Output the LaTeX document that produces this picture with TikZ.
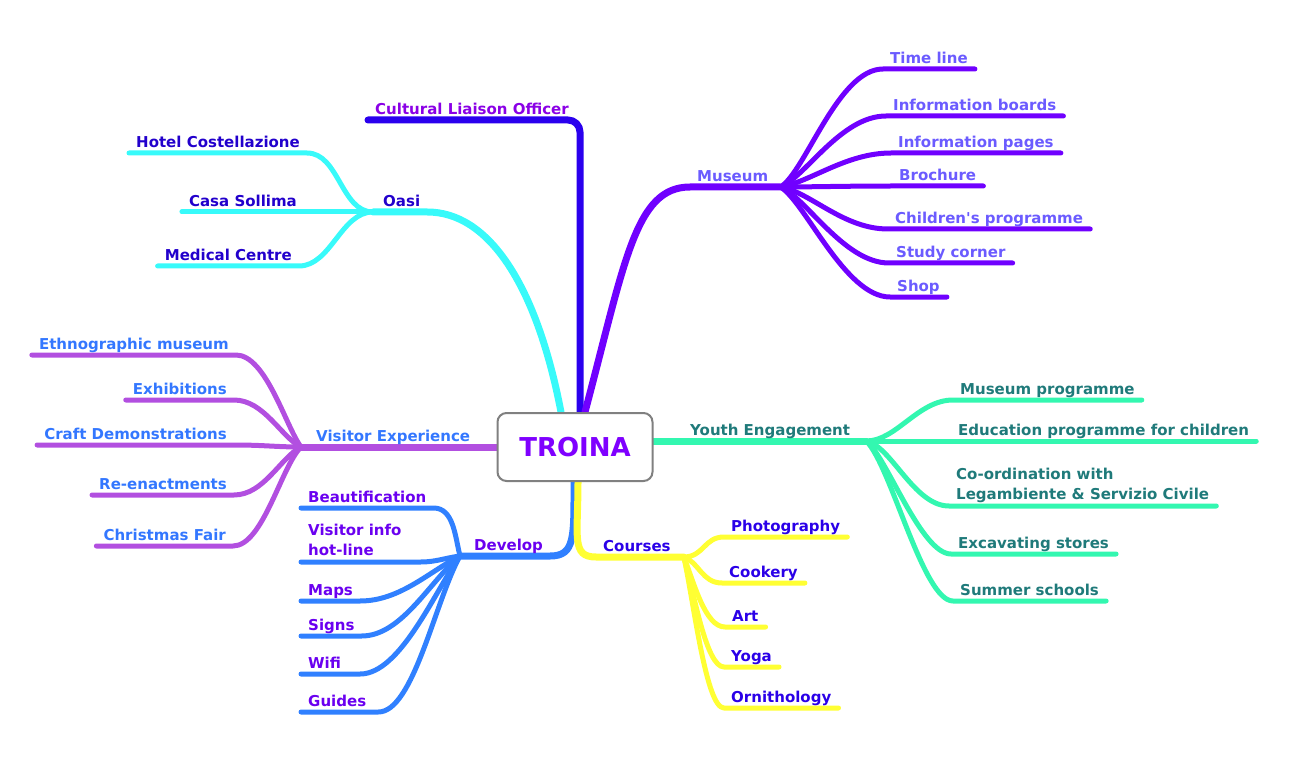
\documentclass[tikz,border=0pt]{standalone}
\usepackage{fontspec}
\setmainfont{DejaVu Sans}
\usepackage{xcolor}
\usepackage{tikz}
\pgfdeclarelayer{bg}
\pgfsetlayers{bg,main}
\definecolor{rootpurple}{HTML}{7F00FF}
\definecolor{rootgray}{HTML}{808080}
\definecolor{liaisonline}{HTML}{2A00EE}
\definecolor{liaisontext}{HTML}{8A00E6}
\definecolor{museumline}{HTML}{7000FF}
\definecolor{museumtext}{HTML}{6B5BFF}
\definecolor{oasiline}{HTML}{38FAFA}
\definecolor{oasitext}{HTML}{2200CC}
\definecolor{visitorline}{HTML}{B24FE0}
\definecolor{visitortext}{HTML}{3377FF}
\definecolor{developline}{HTML}{3080FF}
\definecolor{developtext}{HTML}{6A00F0}
\definecolor{courseline}{HTML}{FFFF33}
\definecolor{coursetext}{HTML}{2A00E8}
\definecolor{youthline}{HTML}{33F7B0}
\definecolor{youthtext}{HTML}{1F7A7A}
\tikzstyle{topic} = [font=\fontsize{15}{20}\selectfont\bfseries, inner xsep=7pt, inner ysep=0pt, text depth=5pt]
\tikzstyle{topictwo} = [font=\fontsize{15}{20}\selectfont\bfseries, inner xsep=7pt, inner ysep=0pt, align=left]
\tikzstyle{branch} = [line width=7pt, line cap=round, line join=round]
\tikzstyle{twig} = [line width=5pt, line cap=round, line join=round]

\begin{document}
\begin{tikzpicture}[x=1pt,y=-1pt]
          \useasboundingbox (0,0) rectangle (1291,762);
          % centre
          \node[draw=rootgray, line width=2pt, rounded corners=9pt, fill=white, minimum width=155pt, minimum height=68pt, text=rootpurple, font=\fontsize{26}{30}\selectfont\bfseries] (troina) at (575,447) {TROINA};

          % main topics
          \node[topic, text=liaisontext, anchor=south east] (liaison) at (576,120) {Cultural Liaison Officer};
          \node[topic, text=museumtext, anchor=south west] (museum) at (690,187) {Museum};
          \node[topic, text=oasitext, anchor=south west] (oasi) at (376,212) {Oasi};
          \node[topic, text=visitortext, anchor=south west] (visitor) at (309,447) {Visitor Experience};
          \node[topic, text=developtext, anchor=south west] (develop) at (467,556) {Develop};
          \node[topic, text=coursetext, anchor=south west] (courses) at (596,557) {Courses};
          \node[topic, text=youthtext, anchor=south west] (youth) at (683,441) {Youth Engagement};
          \coordinate (museumfan) at ([xshift=5pt]museum.south east);
          \coordinate (oasifan) at ([xshift=-3pt]oasi.south west);
          \coordinate (visitorfan) at ([xshift=-8pt]visitor.south west);
          \coordinate (developfan) at ([xshift=-7pt]develop.south west);
          \coordinate (coursesfan) at ([xshift=6pt]courses.south east);
          \coordinate (youthfan) at ([xshift=9pt]youth.south east);

          \begin{pgfonlayer}{bg}
          \draw[branch, liaisonline, rounded corners=12pt] ([xshift=5pt]troina.north) |- (liaison.south west);
          \draw[branch, museumline] ([xshift=10pt]troina.north) .. controls +(40,-150) and +(-55,0) .. (museum.south west) -- (museumfan);
          \draw[branch, oasiline] ([xshift=-14pt]troina.north) .. controls +(-25,-130) and +(60,0) .. (oasi.south east) -- (oasifan);
          \draw[branch, visitorline] (troina.west) -- (visitorfan);
          \draw[branch, developline] ([xshift=-1pt]troina.south) .. controls +(0,55) and +(25,0) .. (develop.south east) -- (developfan);
          \draw[branch, courseline] ([xshift=3pt]troina.south) .. controls +(0,55) and +(-25,0) .. (courses.south west) -- (coursesfan);
          \draw[branch, youthline] (troina.east |- youth.south west) -- (youthfan);
          \end{pgfonlayer}

          % museum
          \node[topic, text=museumtext, anchor=south west] (timeline) at (883,69) {Time line};
          \node[topic, text=museumtext, anchor=south west] (boards) at (886,116) {Information boards};
          \node[topic, text=museumtext, anchor=south west] (pages) at (891,153) {Information pages};
          \node[topic, text=museumtext, anchor=south west] (brochure) at (892,186) {Brochure};
          \node[topic, text=museumtext, anchor=south west] (children) at (888,229) {Children\textquotesingle s programme};
          \node[topic, text=museumtext, anchor=south west] (study) at (889,263) {Study corner};
          \node[topic, text=museumtext, anchor=south west] (shop) at (890,297) {Shop};
          \begin{pgfonlayer}{bg}
          \draw[twig, museumline] (museumfan) .. controls +(25,-15) and +(-45,0) .. (timeline.south west) -- (timeline.south east);
          \draw[twig, museumline] (museumfan) .. controls +(25,-10) and +(-45,0) .. (boards.south west) -- (boards.south east);
          \draw[twig, museumline] (museumfan) .. controls +(30,-5) and +(-45,0) .. (pages.south west) -- (pages.south east);
          \draw[twig, museumline] (museumfan) .. controls +(30,0) and +(-45,0) .. (brochure.south west) -- (brochure.south east);
          \draw[twig, museumline] (museumfan) .. controls +(30,5) and +(-45,0) .. (children.south west) -- (children.south east);
          \draw[twig, museumline] (museumfan) .. controls +(25,10) and +(-45,0) .. (study.south west) -- (study.south east);
          \draw[twig, museumline] (museumfan) .. controls +(25,15) and +(-45,0) .. (shop.south west) -- (shop.south east);
          \end{pgfonlayer}

          % oasi
          \node[topic, text=oasitext, anchor=south east] (hotel) at (307,153) {Hotel Costellazione};
          \node[topic, text=oasitext, anchor=south east] (casa) at (304,212) {Casa Sollima};
          \node[topic, text=oasitext, anchor=south east] (medical) at (299,266) {Medical Centre};
          \begin{pgfonlayer}{bg}
          \draw[twig, oasiline] (oasifan) .. controls +(-32,0) and +(32,0) .. (hotel.south east) -- (hotel.south west);
          \draw[twig, oasiline] (oasifan) -- (casa.south east) -- (casa.south west);
          \draw[twig, oasiline] (oasifan) .. controls +(-32,0) and +(32,0) .. (medical.south east) -- (medical.south west);
          \end{pgfonlayer}

          % visitor experience
          \node[topic, text=visitortext, anchor=south east] (ethno) at (236,355) {Ethnographic museum};
          \node[topic, text=visitortext, anchor=south east] (exhib) at (234,400) {Exhibitions};
          \node[topic, text=visitortext, anchor=south east] (craft) at (234,445) {Craft Demonstrations};
          \node[topic, text=visitortext, anchor=south east] (reenact) at (234,495) {Re-enactments};
          \node[topic, text=visitortext, anchor=south east] (fair) at (233,546) {Christmas Fair};
          \begin{pgfonlayer}{bg}
          \draw[twig, visitorline] (visitorfan) .. controls +(-15,-20) and +(30,0) .. (ethno.south east) -- (ethno.south west);
          \draw[twig, visitorline] (visitorfan) .. controls +(-20,-10) and +(30,0) .. (exhib.south east) -- (exhib.south west);
          \draw[twig, visitorline] (visitorfan) .. controls +(-25,0) and +(30,0) .. (craft.south east) -- (craft.south west);
          \draw[twig, visitorline] (visitorfan) .. controls +(-20,10) and +(30,0) .. (reenact.south east) -- (reenact.south west);
          \draw[twig, visitorline] (visitorfan) .. controls +(-20,20) and +(30,0) .. (fair.south east) -- (fair.south west);
          \end{pgfonlayer}

          % develop
          \node[topic, text=developtext, anchor=south west] (beauty) at (301,508) {Beautification};
          \node[topictwo, text=developtext, anchor=south west] (hotline) at (301,562) {Visitor info\\hot-line\strut};
          \node[topic, text=developtext, anchor=south west] (maps) at (301,601) {Maps};
          \node[topic, text=developtext, anchor=south west] (signs) at (301,636) {Signs};
          \node[topic, text=developtext, anchor=south west] (wifi) at (301,674) {Wifi};
          \node[topic, text=developtext, anchor=south west] (guides) at (301,712) {Guides};
          \begin{pgfonlayer}{bg}
          \draw[twig, developline] (developfan) .. controls +(-5,-20) and +(20,0) .. (beauty.south east) -- (beauty.south west);
          \draw[twig, developline] (developfan) .. controls +(-15,2) and +(15,0) .. ([xshift=12pt]hotline.south east) -- (hotline.south west);
          \draw[twig, developline] (developfan) .. controls +(-30,15) and +(40,0) .. (maps.south east) -- (maps.south west);
          \draw[twig, developline] (developfan) .. controls +(-30,25) and +(40,0) .. (signs.south east) -- (signs.south west);
          \draw[twig, developline] (developfan) .. controls +(-25,35) and +(40,0) .. ([xshift=12pt]wifi.south east) -- (wifi.south west);
          \draw[twig, developline] (developfan) .. controls +(-25,45) and +(35,0) .. ([xshift=5pt]guides.south east) -- (guides.south west);
          \end{pgfonlayer}

          % courses
          \node[topic, text=coursetext, anchor=south west] (photo) at (724,537) {Photography};
          \node[topic, text=coursetext, anchor=south west] (cookery) at (722,583) {Cookery};
          \node[topic, text=coursetext, anchor=south west] (art) at (725,627) {Art};
          \node[topic, text=coursetext, anchor=south west] (yoga) at (724,667) {Yoga};
          \node[topic, text=coursetext, anchor=south west] (birds) at (724,708) {Ornithology};
          \begin{pgfonlayer}{bg}
          \draw[twig, courseline] (coursesfan) .. controls +(20,0) and +(-20,0) .. (photo.south west) -- (photo.south east);
          \draw[twig, courseline] (coursesfan) .. controls +(15,5) and +(-20,0) .. (cookery.south west) -- (cookery.south east);
          \draw[twig, courseline] (coursesfan) .. controls +(10,25) and +(-20,0) .. (art.south west) -- (art.south east);
          \draw[twig, courseline] (coursesfan) .. controls +(10,35) and +(-18,0) .. (yoga.south west) -- (yoga.south east);
          \draw[twig, courseline] (coursesfan) .. controls +(10,45) and +(-18,0) .. (birds.south west) -- (birds.south east);
          \end{pgfonlayer}

          % youth engagement
          \node[topic, text=youthtext, anchor=south west] (museumprog) at (953,400) {Museum programme};
          \node[topic, text=youthtext, anchor=south west] (education) at (951,441) {Education programme for children};
          \node[topictwo, text=youthtext, anchor=south west] (coord) at (949,506) {Co-ordination with\\Legambiente \& Servizio Civile\strut};
          \node[topic, text=youthtext, anchor=south west] (stores) at (951,554) {Excavating stores};
          \node[topic, text=youthtext, anchor=south west] (summer) at (953,601) {Summer schools};
          \begin{pgfonlayer}{bg}
          \draw[twig, youthline] (youthfan) .. controls +(30,0) and +(-35,0) .. (museumprog.south west) -- (museumprog.south east);
          \draw[twig, youthline] (youthfan) -- (education.south west) -- (education.south east);
          \draw[twig, youthline] (youthfan) .. controls +(25,5) and +(-35,0) .. (coord.south west) -- (coord.south east);
          \draw[twig, youthline] (youthfan) .. controls +(20,15) and +(-30,0) .. (stores.south west) -- (stores.south east);
          \draw[twig, youthline] (youthfan) .. controls +(25,25) and +(-30,0) .. (summer.south west) -- (summer.south east);
          \end{pgfonlayer}
\end{tikzpicture}
\end{document}
